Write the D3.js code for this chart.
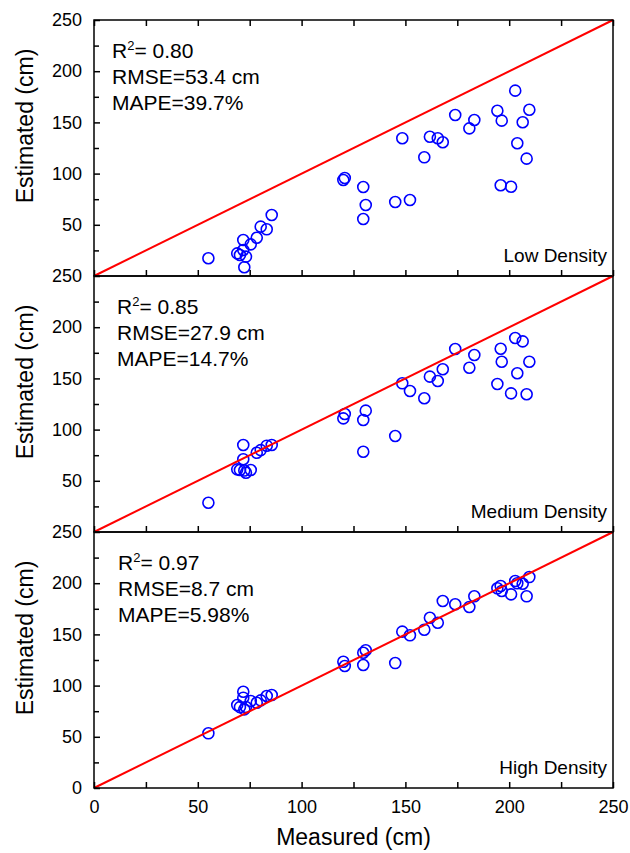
<!DOCTYPE html>
<html>
<head>
<meta charset="utf-8">
<script src="https://cdn.jsdelivr.net/npm/d3@7"></script>
<style>
  html, body { margin: 0; padding: 0; background: #fff; }
  svg { display: block; font-family: "Liberation Sans", Arial, sans-serif; }
</style>
</head>
<body>
<div id="chart"></div>
<script>
// Measured heights (shared by all three panels)
const measured = [55.1, 69, 70.3, 71.9, 71.9, 72.4, 73.2, 75.5, 78.4, 80.3, 83.2, 85.6,
    120.1, 120.8, 129.7, 129.7, 130.9, 145.1, 148.5, 152.2, 159.1, 161.8, 165.6, 168,
    174, 180.8, 183.2, 194.3, 195.9, 196.4, 200.9, 202.9, 203.9, 206.5, 208.4, 209.7];

// Estimated heights per density
const estLow = [17.3, 22.1, 20.5, 35.2, 25.4, 8.5, 18.9, 30.9, 37.4, 48.2, 45.6, 59.6,
    93.8, 95.7, 86.9, 55.7, 69.3, 72.3, 134.5, 74.2, 115.9, 136, 134.5, 130.6,
    157.2, 144.2, 152.3, 161.4, 88.6, 151.7, 87.2, 181, 129.6, 150.1, 114.6, 162.4];
const estMedium = [28.6, 61.2, 60.5, 85, 71, 60, 57.9, 60.5, 77.4, 80, 84.3, 85,
    111, 115.2, 109.4, 78.4, 118.5, 93.8, 145.2, 137.7, 130.6, 151.7, 147.5, 158.9,
    178.7, 160.4, 172.9, 144.5, 179, 166.3, 135.4, 189.5, 155, 186.2, 134.5, 166.3];
const estHigh = [53.4, 81, 79, 94, 88.2, 76.8, 79.1, 85, 83.3, 85.6, 89.8, 90.8,
    123.3, 119.1, 120.1, 132.1, 134.5, 122, 152.7, 149.1, 154.6, 166.3, 161.4, 182.6,
    179.4, 176.8, 187.2, 195, 197.3, 192.4, 189.1, 202.1, 199.9, 199.5, 187.2, 206];

const densityNames = ["Low Density", "Medium Density", "High Density"];
const r2Values = ["0.80", "0.85", "0.97"];
const rmseValues = ["53.4", "27.9", "8.7"];
const mapeValues = ["39.7", "14.7", "5.98"];

const majorTicks = [0, 50, 100, 150, 200, 250];
const minorTicks = [25, 75, 125, 175, 225];
const xTicks = [0, 25, 50, 75, 100, 125, 150, 175, 200, 225, 250];

const panels = [estLow, estMedium, estHigh].map((est, i) => ({
    name: densityNames[i], r2: r2Values[i], rmse: rmseValues[i], mape: mapeValues[i],
    points: measured.map((m, j) => ({ x: m, y: est[j] }))
}));

// Layout
const width = 630, height = 853;
const left = 94, right = 613;
const top0 = 20, panelH = 256;
const statsDx = [18, 23, 24];

const svg = d3.select("#chart").append("svg")
    .attr("width", width)
    .attr("height", height);

const x = d3.scaleLinear().domain([0, 250]).range([left, right]);

panels.forEach((p, i) => {
    const top = top0 + i * panelH;
    const bottom = top + panelH;
    const y = d3.scaleLinear().domain([0, 250]).range([bottom, top]);
    const last = i === panels.length - 1;

    const g = svg.append("g");

    // points
    g.append("g")
        .selectAll("circle")
        .data(p.points)
        .join("circle")
        .attr("cx", d => x(d.x))
        .attr("cy", d => y(d.y))
        .attr("r", 5.5)
        .attr("fill", "none")
        .attr("stroke", "#0000ff")
        .attr("stroke-width", 1.6);

    // 1:1 line
    g.append("line")
        .attr("x1", x(0)).attr("y1", y(0))
        .attr("x2", x(250)).attr("y2", y(250))
        .attr("stroke", "#ff0000")
        .attr("stroke-width", 2);

    // y axis, major ticks with labels
    const yMajor = g.append("g")
        .attr("transform", `translate(${left},0)`)
        .call(d3.axisLeft(y)
            .tickValues(last ? majorTicks : majorTicks.slice(1))
            .tickSizeInner(-6).tickSizeOuter(0).tickPadding(12));
    // y axis, minor ticks
    const yMinor = g.append("g")
        .attr("transform", `translate(${left},0)`)
        .call(d3.axisLeft(y).tickValues(minorTicks).tickSizeInner(-5).tickSizeOuter(0).tickFormat(""));

    // bottom x ticks
    const xBottom = g.append("g")
        .attr("transform", `translate(0,${bottom})`)
        .call(d3.axisBottom(x).tickValues(xTicks)
            .tickSizeInner(-6).tickSizeOuter(0).tickPadding(12)
            .tickFormat(d => (last && d % 50 === 0) ? d : ""));

    const axes = [yMajor, yMinor, xBottom];
    if (i === 0) {
        axes.push(g.append("g")
            .attr("transform", `translate(0,${top})`)
            .call(d3.axisTop(x).tickValues(xTicks).tickSizeInner(-6).tickSizeOuter(0).tickFormat("")));
    }
    axes.forEach(a => {
        a.select(".domain").remove();
        a.selectAll(".tick line").attr("stroke", "#000").attr("stroke-width", 1.5);
        a.selectAll(".tick text").attr("font-size", 18).attr("fill", "#000")
            .attr("font-family", "Liberation Sans, Arial, sans-serif");
    });

    // frame
    g.append("rect")
        .attr("x", left).attr("y", top)
        .attr("width", right - left).attr("height", panelH)
        .attr("fill", "none")
        .attr("stroke", "#000")
        .attr("stroke-width", 1.5);

    // stats text
    const sx = left + statsDx[i];
    const t1 = g.append("text").attr("x", sx).attr("y", top + 38).attr("font-size", 21);
    t1.append("tspan").text("R");
    t1.append("tspan").text("2").attr("font-size", 13).attr("dy", -8);
    t1.append("tspan").text("= " + p.r2).attr("dy", 8);
    g.append("text").attr("x", sx).attr("y", top + 64).attr("font-size", 21)
        .text(`RMSE=${p.rmse} cm`);
    g.append("text").attr("x", sx).attr("y", top + 90).attr("font-size", 21)
        .text(`MAPE=${p.mape}%`);

    // density label
    g.append("text")
        .attr("x", right - 6).attr("y", bottom - 14)
        .attr("text-anchor", "end")
        .attr("font-size", 19)
        .text(p.name);

    // y title
    g.append("text")
        .attr("transform", `translate(33,${top + panelH / 2 - 22}) rotate(-90)`)
        .attr("text-anchor", "middle")
        .attr("font-size", 23)
        .text("Estimated (cm)");
});

// x title
svg.append("text")
    .attr("x", (left + right) / 2)
    .attr("y", 845)
    .attr("text-anchor", "middle")
    .attr("font-size", 23)
    .text("Measured (cm)");
</script>
</body>
</html>
